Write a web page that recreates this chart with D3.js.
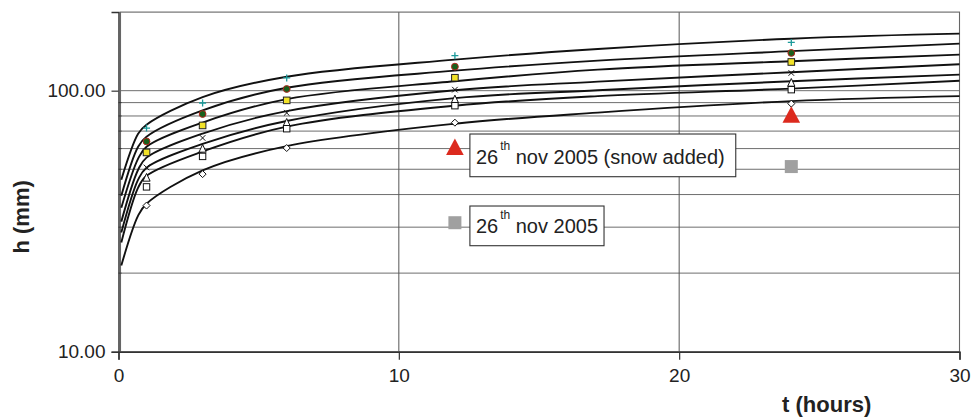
<!DOCTYPE html>
<html><head><meta charset="utf-8">
<script src="https://cdn.jsdelivr.net/npm/d3@7"></script>
<style>body{margin:0;background:#fff} svg{display:block}</style>
</head><body>
<svg id="chart" width="971" height="417"></svg>
<script>
// ---- data ----
const curveTimes = [0.1, 0.7, 1, 3, 6, 12, 17.1, 24, 30];
const curve1 = [45.6, 68.4, 74.1, 94.5, 113.1, 131.5, 144.5, 158.2, 165.4];
const curve2 = [39.6, 61.0, 66.6, 84.0, 102.6, 119.3, 130.3, 141.7, 151.4];
const curve3 = [35.6, 54.9, 61.0, 75.5, 92.8, 108.7, 120.4, 129.7, 137.4];
const curve4 = [31.5, 49.8, 55.4, 68.5, 83.5, 100.4, 108.3, 117.7, 126.3];
const curve5 = [28.6, 45.6, 50.7, 62.5, 76.5, 93.6, 100.4, 108.7, 115.2];
const curve6 = [26.2, 42.5, 47.2, 58.5, 72.8, 87.6, 95.3, 101.8, 109.2];
const curve7 = [21.4, 33.2, 36.9, 49.5, 61.3, 74.7, 82.4, 91.2, 95.3];

const markerTimes = [1, 3, 6, 12, 24];
const plusValues    = [71.9, 89.7, 111.9, 136.2, 153.1];
const circleValues  = [63.9, 81.4, 101.5, 123.6, 139.5];
const ysquareValues = [58.0, 73.6, 91.8, 112.1, 128.8];
const crossValues   = [50.8, 65.9, 82.2, 100.9, 116.9];
const triValues     = [46.3, 59.8, 75.2, 92.4, 107.0];
const osquareValues = [42.8, 56.0, 71.5, 87.6, 100.9];
const diamondValues = [36.3, 47.9, 60.3, 75.4, 89.2];

const snowTimes = [12, 24];
const snowValues = [61, 81];
const novTimes = [12, 24];
const novValues = [31.2, 51.2];

const xTicks = [0, 10, 20, 30];
const yMajorTicks = [10, 100];
const yGridValues = [20, 30, 40, 50, 60, 70, 80, 90, 100];
const xGridValues = [10, 20];
const labelSnow = ["26", "th", " nov 2005 (snow added)"];
const labelNov = ["26", "th", " nov 2005"];
const xTitle = "t (hours)";
const yTitle = "h (mm)";

// ---- layout ----
const FONT = "'Liberation Sans', Arial, Helvetica, sans-serif";
const svg = d3.select("#chart");
const x = d3.scaleLinear().domain([0, 30]).range([118.5, 959.5]);
const y = d3.scaleLog().domain([10, 200]).range([351.7, 12.1]);
const pLeft = x(0), pRight = x(30), pTop = y(200), pBottom = y(10);

// horizontal gridlines
svg.append("g").selectAll("line").data(yGridValues).join("line")
  .attr("x1", pLeft + 2).attr("x2", pRight)
  .attr("y1", d => y(d)).attr("y2", d => y(d))
  .attr("stroke", "#6e6e6e").attr("stroke-width", 1);
// vertical gridlines
svg.append("g").selectAll("line").data(xGridValues).join("line")
  .attr("x1", d => x(d)).attr("x2", d => x(d))
  .attr("y1", pTop).attr("y2", pBottom)
  .attr("stroke", "#555").attr("stroke-width", 1);
// plot border
svg.append("rect").attr("x", pLeft + 2).attr("y", pTop)
  .attr("width", pRight - pLeft - 2).attr("height", pBottom - pTop)
  .attr("fill", "none").attr("stroke", "#666").attr("stroke-width", 1.1);

// axes
const xAxis = svg.append("g").attr("transform", `translate(0,${pBottom})`)
  .call(d3.axisBottom(x).tickValues(xTicks).tickFormat(d3.format("d")).tickSize(8).tickPadding(8.5));
const yAxis = svg.append("g").attr("transform", `translate(${pLeft},0)`)
  .call(d3.axisLeft(y).tickValues(yMajorTicks).tickFormat(d3.format(".2f")).tickSize(7).tickPadding(6));
[xAxis, yAxis].forEach(g => {
  g.select(".domain").attr("stroke", "#333").attr("stroke-width", 1.5);
  g.selectAll(".tick line").attr("stroke", "#333").attr("stroke-width", 1.2);
  g.selectAll("text").attr("font-family", FONT).attr("font-size", 19).attr("fill", "#222");
});
// minor ticks on y axis (inside)
svg.append("g").selectAll("line").data(yGridValues.filter(v => v < 100)).join("line")
  .attr("x1", pLeft).attr("x2", pLeft + 3)
  .attr("y1", d => y(d)).attr("y2", d => y(d))
  .attr("stroke", "#333").attr("stroke-width", 1);

// axis titles
svg.append("text").attr("x", 826.7).attr("y", 411.5).attr("text-anchor", "middle")
  .attr("font-family", FONT).attr("font-weight", "bold").attr("font-size", 22).attr("fill", "#222").text(xTitle);
svg.append("text").attr("transform", `translate(29,${(pTop + pBottom) / 2 + 35}) rotate(-90)`).attr("text-anchor", "middle")
  .attr("font-family", FONT).attr("font-weight", "bold").attr("font-size", 22).attr("fill", "#222").text(yTitle);

// curves
const curves = [curve1, curve2, curve3, curve4, curve5, curve6, curve7];
const line = d3.line().x(d => x(d.t)).y(d => y(d.v)).curve(d3.curveCatmullRom.alpha(0.5));
svg.append("g").selectAll("path").data(curves).join("path")
  .attr("d", vals => line(vals.map((v, i) => ({ t: curveTimes[i], v }))))
  .attr("fill", "none").attr("stroke", "#111").attr("stroke-width", 1.9);

// markers
function pts(vals, times) { return vals.map((v, i) => ({ t: times[i], v })); }
const mg = svg.append("g");
mg.selectAll(".plus").data(pts(plusValues, markerTimes)).join("path")
  .attr("d", d => { const cx = x(d.t), cy = y(d.v); return `M${cx-3.5},${cy}H${cx+3.5}M${cx},${cy-3.5}V${cy+3.5}`; })
  .attr("stroke", "#1c9a9a").attr("stroke-width", 1.3);
mg.selectAll(".circ").data(pts(circleValues, markerTimes)).join("circle")
  .attr("cx", d => x(d.t)).attr("cy", d => y(d.v)).attr("r", 3.4)
  .attr("fill", "#19601c").attr("stroke", "#b3261e").attr("stroke-width", 1);
mg.selectAll(".ysq").data(pts(ysquareValues, markerTimes)).join("rect")
  .attr("x", d => x(d.t) - 3.3).attr("y", d => y(d.v) - 3.3).attr("width", 6.6).attr("height", 6.6)
  .attr("fill", "#f2e228").attr("stroke", "#222").attr("stroke-width", 1);
mg.selectAll(".cross").data(pts(crossValues, markerTimes)).join("path")
  .attr("d", d => { const cx = x(d.t), cy = y(d.v), s = 2.8; return `M${cx-s},${cy-s}L${cx+s},${cy+s}M${cx-s},${cy+s}L${cx+s},${cy-s}`; })
  .attr("stroke", "#111").attr("stroke-width", 1);
mg.selectAll(".otri").data(pts(triValues, markerTimes)).join("path")
  .attr("d", d => { const cx = x(d.t), cy = y(d.v); return `M${cx},${cy-4.5}L${cx+3.6},${cy+3.2}L${cx-3.6},${cy+3.2}Z`; })
  .attr("fill", "#fff").attr("stroke", "#111").attr("stroke-width", 1);
mg.selectAll(".osq").data(pts(osquareValues, markerTimes)).join("rect")
  .attr("x", d => x(d.t) - 3.2).attr("y", d => y(d.v) - 3.2).attr("width", 6.4).attr("height", 6.4)
  .attr("fill", "#fff").attr("stroke", "#111").attr("stroke-width", 1);
mg.selectAll(".dia").data(pts(diamondValues, markerTimes)).join("path")
  .attr("d", d => { const cx = x(d.t), cy = y(d.v), s = 3.5; return `M${cx},${cy-s}L${cx+s},${cy}L${cx},${cy+s}L${cx-s},${cy}Z`; })
  .attr("fill", "#fff").attr("stroke", "#111").attr("stroke-width", 1);
mg.selectAll(".rtri").data(pts(snowValues, snowTimes)).join("path")
  .attr("d", d => { const cx = x(d.t), cy = y(d.v); return `M${cx},${cy-8.2}L${cx+8.8},${cy+8.2}L${cx-8.8},${cy+8.2}Z`; })
  .attr("fill", "#dc2a1e");
mg.selectAll(".gsq").data(pts(novValues, novTimes)).join("rect")
  .attr("x", d => x(d.t) - 6.5).attr("y", d => y(d.v) - 6.5).attr("width", 13).attr("height", 13)
  .attr("fill", "#a0a0a0");

// callout boxes
function callout(parts, t, v, dyTop, h, pad) {
  const g = svg.append("g");
  const bx = x(t) + 15, by = y(v) - dyTop;
  const rect = g.append("rect").attr("x", bx).attr("y", by).attr("height", h)
    .attr("fill", "#fff").attr("stroke", "#333").attr("stroke-width", 1.1);
  const txt = g.append("text").attr("x", bx + 6).attr("y", by + h - 12.4)
    .attr("font-family", FONT).attr("font-size", 20).attr("fill", "#222");
  txt.append("tspan").text(parts[0]);
  txt.append("tspan").attr("font-size", 12).attr("dy", -14).attr("dx", 2).text(parts[1]);
  txt.append("tspan").attr("dy", 14).text(parts[2]);
  const w = txt.node().getComputedTextLength();
  rect.attr("width", w + pad);
}
callout(labelSnow, snowTimes[0], snowValues[0], 12.7, 42.7, 19);
callout(labelNov, novTimes[0], novValues[0], 16.7, 39.7, 14);
</script>
</body></html>
